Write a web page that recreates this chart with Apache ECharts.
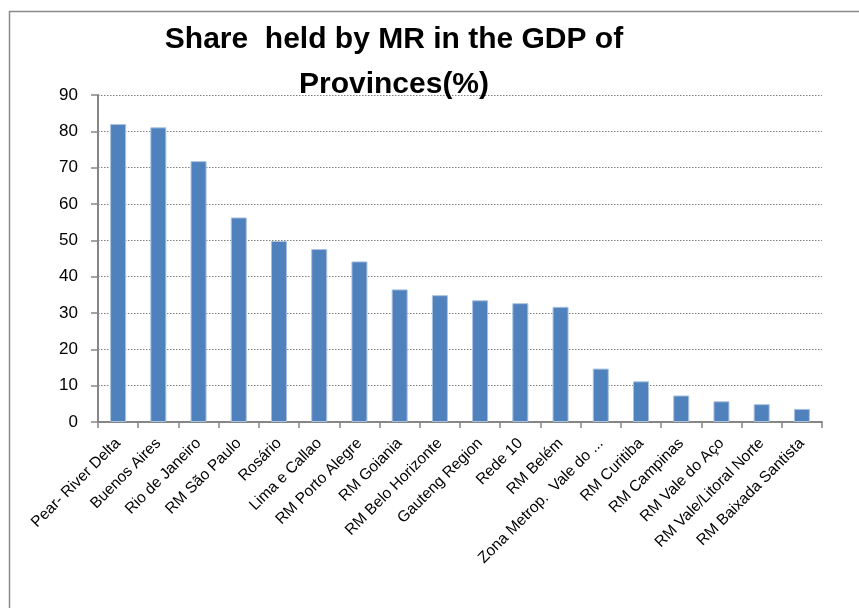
<!DOCTYPE html>
<html>
<head>
<meta charset="utf-8">
<script src="https://cdn.jsdelivr.net/npm/echarts@6/dist/echarts.min.js"></script>
<style>
  html, body { margin: 0; padding: 0; background: #ffffff; }
  #chart { width: 859px; height: 608px; }
</style>
</head>
<body>
<div id="chart"></div>
<script>
// Metropolitan regions and their share of their province's GDP (%)
var regions = [
  'Pear- River Delta', 'Buenos Aires', 'Rio de Janeiro', 'RM São Paulo',
  'Rosário', 'Lima e Callao', 'RM Porto Alegre', 'RM Goiania',
  'RM Belo Horizonte', 'Gauteng Region', 'Rede 10', 'RM Belém',
  'Zona Metrop.  Vale do ...', 'RM Curitiba', 'RM Campinas', 'RM Vale do Aço',
  'RM Vale/Litoral Norte', 'RM Baixada Santista'
];
var shares = [
  82.0, 81.1, 71.8, 56.3, 49.8, 47.6, 44.2, 36.5, 34.9,
  33.5, 32.7, 31.7, 14.7, 11.2, 7.3, 5.7, 4.9, 3.6
];
var yTicks = { min: 0, max: 90, step: 10 };

var chart = echarts.init(document.getElementById('chart'), null, { renderer: 'canvas' });

var labelFont = '"Liberation Sans", "DejaVu Sans", sans-serif';

chart.setOption({
  animation: false,
  backgroundColor: '#ffffff',
  title: {
    text: 'Share  held by MR in the GDP of\nProvinces(%)',
    left: 389,
    top: 12,
    textAlign: 'center',
    textStyle: {
      fontFamily: labelFont,
      fontWeight: 'bold',
      fontSize: 30,
      lineHeight: 45,
      color: '#000000'
    }
  },
  graphic: [{
    type: 'rect',
    silent: true,
    z: -1,
    shape: { x: 9.5, y: 11.5, width: 900, height: 700 },
    style: { fill: 'none', stroke: '#8a8a8a', lineWidth: 1.5 }
  }],
  grid: { left: 98, right: 37, top: 95, bottom: 186, containLabel: false },
  xAxis: {
    type: 'category',
    data: regions,
    boundaryGap: true,
    axisLine: { lineStyle: { color: '#868686', width: 2 } },
    axisTick: { show: true, alignWithLabel: false, length: 6, lineStyle: { color: '#868686', width: 1.5 } },
    axisLabel: {
      interval: 0,
      rotate: 45,
      margin: 19,
      fontFamily: labelFont,
      fontSize: 15.5,
      color: '#000000'
    },
    splitLine: { show: false }
  },
  yAxis: {
    type: 'value',
    min: yTicks.min,
    max: yTicks.max,
    interval: yTicks.step,
    axisLine: { show: true, lineStyle: { color: '#868686', width: 2 } },
    axisTick: { show: true, inside: false, length: 7, lineStyle: { color: '#868686', width: 1.5 } },
    axisLabel: {
      margin: 20,
      fontFamily: labelFont,
      fontSize: 17,
      color: '#000000'
    },
    splitLine: { show: true, lineStyle: { color: '#7f7f7f', type: [1.5, 1.5], width: 1 } }
  },
  series: [{
    type: 'bar',
    data: shares,
    barWidth: 16,
    itemStyle: { color: '#4f81bd', borderColor: '#a9c1e0', borderWidth: 1 }
  }]
});
</script>
</body>
</html>
